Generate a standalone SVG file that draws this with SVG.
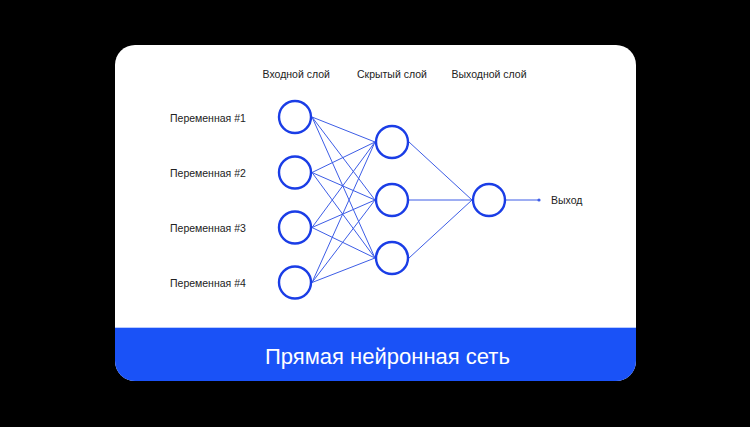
<svg xmlns="http://www.w3.org/2000/svg" width="750" height="427" viewBox="0 0 750 427">
<style>
.lbl{font-family:"Liberation Sans",Arial,sans-serif;font-size:10.5px;fill:#222}
.node{fill:#fff;stroke:#1a3de6;stroke-width:2.4}
.edge{stroke:#3d5de6;stroke-width:1;fill:none}
.title{font-family:"Liberation Sans",Arial,sans-serif;font-size:22px;fill:#fff}
</style>
<defs>
<clipPath id="cardclip"><rect x="115" y="45" width="521" height="336" rx="20"/></clipPath>
</defs>
<rect width="750" height="427" fill="#000"/>
<g id="card">
<rect x="115" y="45" width="521" height="336" rx="20" fill="#fff"/>
<g clip-path="url(#cardclip)">
<rect x="115" y="327" width="521" height="60" fill="#1a52f7"/>
<line x1="115" y1="327.5" x2="636" y2="327.5" stroke="#b8cbff" stroke-width="1"/>
</g>
<text class="title" x="265" y="364">Прямая нейронная сеть</text>
</g>
<g id="headers">
<text class="lbl" x="262.5" y="78">Входной слой</text>
<text class="lbl" x="357" y="78">Скрытый слой</text>
<text class="lbl" x="451.5" y="78">Выходной слой</text>
</g>
<g id="connectors">
<path class="edge" d="M312,117L375,142M312,117L375,200M312,117L375,258
M312,172.5L375,142M312,172.5L375,200M312,172.5L375,258
M312,227.5L375,142M312,227.5L375,200M312,227.5L375,258
M312,282.5L375,142M312,282.5L375,200M312,282.5L375,258
M409,142L472,200M409,200L472,200M409,258L472,200
M506,200L539,200"/>
<circle cx="539" cy="200" r="1.6" fill="#3d5de6"/>
</g>
<g id="in1"><circle class="node" cx="295" cy="117" r="16"/><text class="lbl" x="170" y="121.5">Переменная #1</text></g>
<g id="in2"><circle class="node" cx="295" cy="172.5" r="16"/><text class="lbl" x="170" y="176.5">Переменная #2</text></g>
<g id="in3"><circle class="node" cx="295" cy="227.5" r="16"/><text class="lbl" x="170" y="231.5">Переменная #3</text></g>
<g id="in4"><circle class="node" cx="295" cy="282.5" r="16"/><text class="lbl" x="170" y="286.5">Переменная #4</text></g>
<g id="h1"><circle class="node" cx="392" cy="142" r="16"/></g>
<g id="h2"><circle class="node" cx="392" cy="200" r="16"/></g>
<g id="h3"><circle class="node" cx="392" cy="258" r="16"/></g>
<g id="out"><circle class="node" cx="489" cy="200" r="16"/></g>
<g id="outlabel"><text class="lbl" x="551" y="204">Выход</text></g>
</svg>
